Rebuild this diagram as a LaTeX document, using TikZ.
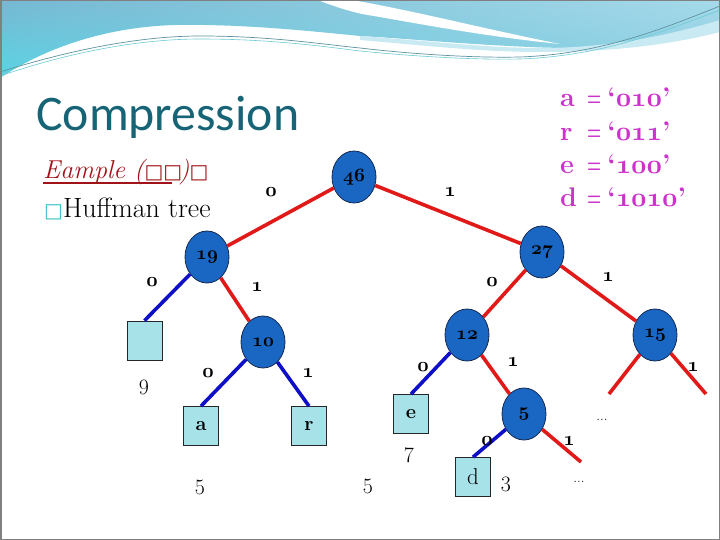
\RequirePackage{fix-cm}
\documentclass[tikz,border=0pt]{standalone}
\usepackage{fontspec}
\usepackage{graphicx}
\setmainfont{Latin Modern Roman}
\newfontfamily\titlefont{Carlito}
\newfontfamily\dejavu{DejaVu Sans}
\usetikzlibrary{shapes.geometric,shadings}
\definecolor{nodeblue}{RGB}{25,103,195}
\definecolor{nodeline}{RGB}{20,40,80}
\definecolor{leafcyan}{RGB}{166,226,232}
\definecolor{edgered}{RGB}{225,25,25}
\definecolor{edgeblue}{RGB}{15,15,200}
\definecolor{codemag}{RGB}{204,51,204}
\definecolor{titleteal}{RGB}{23,100,118}
\definecolor{exred}{RGB}{160,20,25}
\definecolor{bullteal}{RGB}{70,190,200}
\definecolor{banA}{RGB}{118,184,210}
\definecolor{banB}{RGB}{165,218,234}
\definecolor{banC}{RGB}{92,212,228}
\definecolor{banD}{RGB}{140,205,225}
\newcommand\osb[2]{{\fontsize{#1}{#1}\usefont{OML}{cmm}{b}{it}#2}}
\newcommand\codeeq[2]{\makebox[27bp][l]{#1}\scalebox{0.6}[1]{=}\hspace{6bp}‘\osb{27}{#2}’}
\tikzset{
  inner/.style={ellipse, draw=nodeline, line width=0.8bp, fill=nodeblue,
    minimum width=44bp, minimum height=52bp, inner sep=0pt,
    font={\fontsize{19}{19}\usefont{OML}{cmm}{b}{it}}},
  leaf/.style={rectangle, draw=black!85, line width=0.8bp, fill=leafcyan,
    minimum width=35bp, minimum height=39bp, inner sep=0pt,
    font={\fontsize{20}{20}\selectfont\bfseries}},
  redge/.style={draw=edgered, line width=3.6bp},
  bedge/.style={draw=edgeblue, line width=3.6bp},
  elabel/.style={inner sep=0pt, font={\fontsize{20}{20}\usefont{OML}{cmm}{b}{it}}},
  weight/.style={inner sep=0pt, font={\fontsize{22}{22}\selectfont}},
  dots/.style={inner sep=0pt, font={\fontsize{15}{15}\selectfont}},
  codeline/.style={anchor=base west, inner sep=0pt, text=codemag,
    font={\fontsize{27}{27}\selectfont\bfseries}},
}
\begin{document}
\begin{tikzpicture}[x=1bp, y=-1bp]
\useasboundingbox (0,0) rectangle (720,540);
\fill[white] (0,0) rectangle (720,540);
% banner
\shade[upper left=banA, upper right=banB, lower left=banC, lower right=banD]
  (0,0) -- (720,0) -- (720,26) .. controls (650,46) and (590,50) .. (530,47)
  .. controls (460,44) and (400,38) .. (360,36)
  .. controls (300,30) and (240,24) .. (175,25)
  .. controls (110,27) and (50,45) .. (0,78) -- cycle;
\fill[banB!60!white] (360,36) .. controls (440,42) and (490,48) .. (540,48)
  .. controls (610,48) and (670,35) .. (720,20) -- (720,32)
  .. controls (670,45) and (610,52) .. (540,52) .. controls (480,52) and (420,45) .. (360,40) -- cycle;
\fill[white] (318,0) -- (352,0) .. controls (420,12) and (480,28) .. (560,44)
  .. controls (480,36) and (410,22) .. (362,14) .. controls (345,10) and (330,5) .. (318,0) -- cycle;
\draw[titleteal!70, line width=0.7bp] (0,72) .. controls (70,50) and (140,36) .. (200,36)
  .. controls (270,36) and (320,44) .. (360,48) .. controls (420,55) and (480,58) .. (520,57)
  .. controls (600,54) and (660,30) .. (720,6);
\draw[bullteal!80, line width=0.6bp] (0,76) .. controls (70,52) and (140,39) .. (200,39)
  .. controls (270,39) and (320,46) .. (360,51) .. controls (420,57) and (480,60) .. (520,59)
  .. controls (600,56) and (660,33) .. (720,10);
% border
\draw[gray, line width=1.5bp] (0.75,0.75) rectangle (719.25,539.25);
% title and text
\node[anchor=base west, inner sep=0pt, text=titleteal, font={\titlefont\fontsize{50}{50}\selectfont}] (title) at (36,131) {Compression};
\node[anchor=base west, inner sep=0pt, text=exred, font={\fontsize{26}{26}\selectfont\itshape}] (example) at (43,179)
  {Eample ({\dejavu\fontsize{20}{20}\selectfont\itshape □□}\kern-3bp){\dejavu\fontsize{20}{20}\selectfont\itshape □}};
\coordinate (ul1) at (43,183);
\coordinate (ul2) at (172,183);
\draw[exred, line width=1.1bp] (ul1) -- (ul2);
\node[anchor=base west, inner sep=0pt, font={\fontsize{28}{28}\selectfont}] (huff) at (44,218)
  {{\dejavu\fontsize{20}{20}\selectfont\color{bullteal}□}Huffman tree};
% codes
\node[codeline] (ca) at (560,107) {\codeeq{a}{010}};
\node[codeline] (cr) at (560,141) {\codeeq{r}{011}};
\node[codeline] (ce) at (560,174) {\codeeq{e}{100}};
\node[codeline] (cd) at (560,207) {\codeeq{d}{1010}};
% tree nodes
\node[inner] (n46) at (354,177) {46};
\node[inner] (n19) at (207,257) {19};
\node[inner] (n27) at (542,252) {27};
\node[inner] (n10) at (263,342) {10};
\node[inner] (n12) at (467,335) {12};
\node[inner] (n15) at (655,335) {15};
\node[inner] (n5)  at (524,414) {5};
\node[leaf] (b9) at (144.5,340.5) {};
\node[leaf] (la) at (201,426) {a};
\node[leaf] (lr) at (309,426) {r};
\node[leaf] (le) at (411,414) {e};
\node[leaf, font={\fontsize{23}{23}\selectfont}] (ld) at (473,477) {d};
\coordinate (c15l) at (609,394);
\coordinate (c15r) at (706,394);
\coordinate (c5r) at (581,462);
% edges
\draw[redge] (n46) -- (n19);
\draw[redge] (n46) -- (n27);
\draw[bedge] (n19) -- (b9.north);
\draw[redge] (n19) -- (n10);
\draw[bedge] (n10) -- (la.north);
\draw[bedge] (n10) -- (lr.north);
\draw[redge] (n27) -- (n12);
\draw[redge] (n27) -- (n15);
\draw[bedge] (n12) -- (le.north);
\draw[redge] (n12) -- (n5);
\draw[redge] (n15) -- (c15l);
\draw[redge] (n15) -- (c15r);
\draw[bedge] (n5) -- (ld.north);
\draw[redge] (n5) -- (c5r);
% edge labels
\node[elabel] (l1) at (271,192) {0};
\node[elabel] (l2) at (450,192) {1};
\node[elabel] (l3) at (152,282) {0};
\node[elabel] (l4) at (257,287) {1};
\node[elabel] (l5) at (208,373) {0};
\node[elabel] (l6) at (308,373) {1};
\node[elabel] (l7) at (492,282) {0};
\node[elabel] (l8) at (608,277) {1};
\node[elabel] (l9) at (423,367) {0};
\node[elabel] (l10) at (513,362) {1};
\node[elabel] (l11) at (693,367) {1};
\node[elabel] (l12) at (487,441) {0};
\node[elabel] (l13) at (569,441) {1};
% weights
\node[weight] (w9) at (144,387) {9};
\node[weight] (w5a) at (200,487) {5};
\node[weight] (w5b) at (368,486) {5};
\node[weight] (w7) at (409,455) {7};
\node[weight] (w3) at (506,484) {3};
\node[dots] (d1) at (602,420) {...};
\node[dots] (d2) at (579,482) {...};
\end{tikzpicture}
\end{document}
